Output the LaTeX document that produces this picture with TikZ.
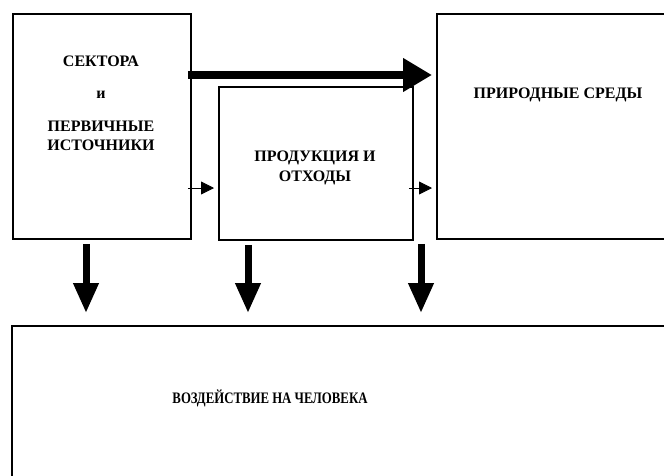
\documentclass[tikz,border=0pt]{standalone}
\usepackage{fontspec}
\setmainfont{Liberation Serif}
\newfontfamily\condserif[FakeStretch=0.8]{Liberation Serif}
\usetikzlibrary{arrows.meta,calc}
\tikzset{
  box/.style={draw=black, line width=1.8pt, rectangle, anchor=north west, inner sep=0pt},
  lbl/.style={font=\fontsize{16}{20}\selectfont\bfseries, inner sep=0pt, align=center},
  lblc/.style={font=\condserif\fontsize{16}{19}\selectfont\bfseries, inner sep=0pt, align=center},
  bigarrow/.style={line width=8pt, -{Triangle[length=29pt,width=32pt]}},
  downarrow/.style={line width=7pt, -{Triangle[length=30pt,width=24pt]}},
  smallarrow/.style={line width=0.8pt, -{Triangle[length=13pt,width=13pt]}}
}
\begin{document}
\begin{tikzpicture}[x=1pt,y=-1pt]
\useasboundingbox (0,0) rectangle (664,475);
\clip (0,0) rectangle (664,475);
\node[box, minimum width=178pt, minimum height=225pt] (A) at (12,13) {};
\node[box, minimum width=194pt, minimum height=153pt] (B) at (218,86) {};
\node[box, minimum width=280pt, minimum height=225pt] (C) at (436,13) {};
\node[box, minimum width=700pt, minimum height=200pt] (D) at (11,325) {};
\node[lbl] (t1) at (101,61) {СЕКТОРА};
\node[lbl] (t2) at (101,95) {и};
\node[lbl] (t3) at (101,135.5) {ПЕРВИЧНЫЕ\\[-1pt]ИСТОЧНИКИ};
\node[lbl] (t4) at (315,168) {ПРОДУКЦИЯ И\\ОТХОДЫ};
\node[lbl] (t5) at (558,95) {ПРИРОДНЫЕ СРЕДЫ};
\node[lblc] (t6) at (270,398) {ВОЗДЕЙСТВИЕ НА ЧЕЛОВЕКА};
\coordinate (bigy) at (0,75);
\coordinate (smally) at (0,188);
\draw[bigarrow] ($(A.east |- bigy)+(-4,0)$) -- ($(C.west |- bigy)+(-4,0)$);
\draw[smallarrow] ($(A.east |- smally)+(-4,0)$) -- ($(B.west |- smally)+(-4,0)$);
\draw[smallarrow] ($(B.east |- smally)+(-5,0)$) -- ($(C.west |- smally)+(-4,0)$);
\draw[downarrow] ($(A.south west)+(74,4)$) -- ($(A.south west |- D.north)+(74,-12)$);
\draw[downarrow] ($(B.south west)+(30,4)$) -- ($(B.south west |- D.north)+(30,-12)$);
\draw[downarrow] ($(C.south west)+(-15,4)$) -- ($(C.south west |- D.north)+(-15,-12)$);
\end{tikzpicture}
\end{document}
